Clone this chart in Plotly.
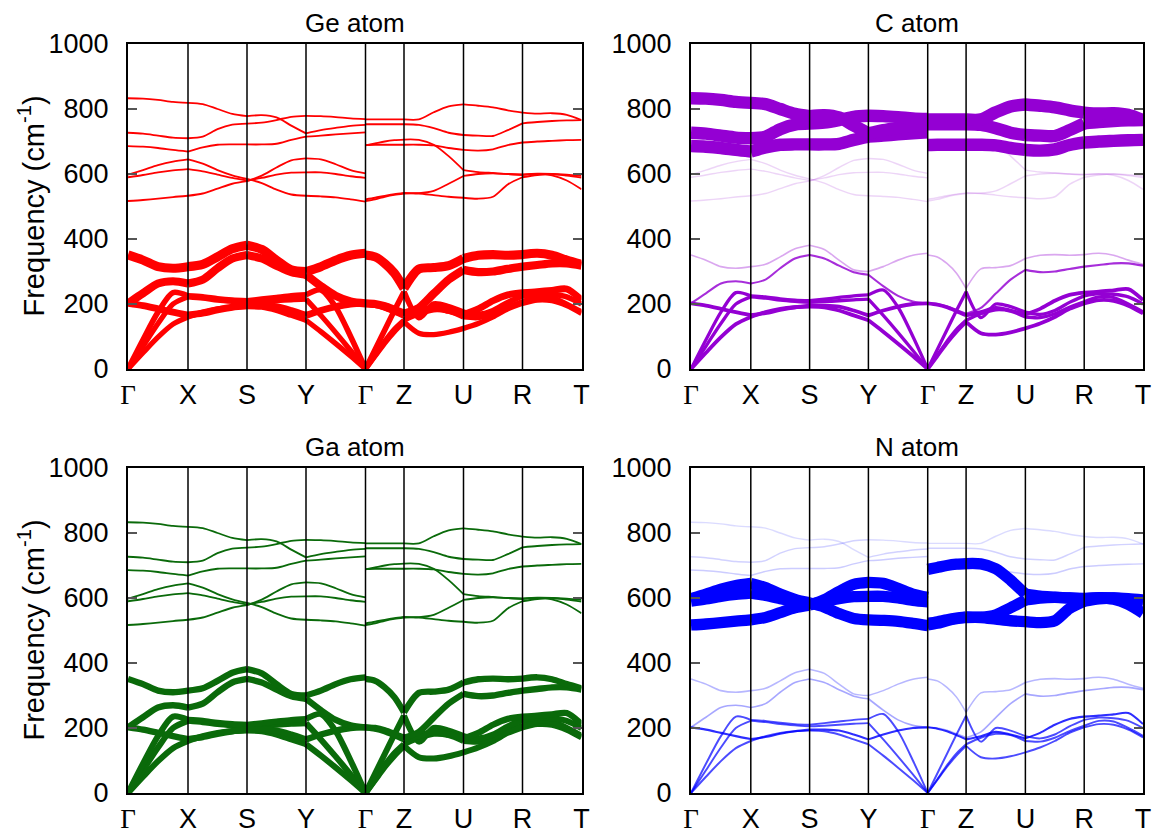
import plotly.graph_objects as go

# ---------------- data ----------------
LABELS = ["Γ", "X", "S", "Y", "Γ", "Z", "U", "R", "T"]
KPOS = [0, 60, 119, 178, 237.5, 276, 335.5, 394.5, 453.5]   # path distance of high-symmetry points
FRAC = [0, 0.25, 0.5, 0.75, 1.0]                            # sample positions inside a segment
YTICKS = [0, 200, 400, 600, 800, 1000]

# frequencies (cm^-1) of the 12 branches, sampled along each path segment
SEG_GX = [
    [0, 50, 98, 138, 160], [0, 70, 140, 200, 222], [0, 90, 175, 235, 225],
    [202, 195, 185, 175, 166], [202, 233, 263, 270, 263], [351, 335, 315, 310, 315],
    [517, 520, 524, 529, 533], [590, 597, 605, 611, 615], [598, 612, 627, 638, 645],
    [686, 684, 680, 674, 669], [727, 724, 718, 712, 710], [833, 832, 828, 822, 819]]
SEG_XS = [
    [160, 175, 185, 190, 192], [222, 218, 212, 208, 205], [225, 222, 216, 212, 210],
    [166, 172, 182, 190, 195], [263, 275, 310, 340, 351], [315, 322, 345, 370, 381],
    [533, 540, 555, 570, 578], [615, 608, 598, 588, 580], [645, 632, 612, 596, 585],
    [669, 682, 690, 691, 691], [710, 715, 738, 752, 755], [819, 815, 800, 785, 778]]
SEG_SY = [
    [192, 190, 180, 165, 150], [205, 207, 210, 213, 215], [210, 215, 220, 225, 228],
    [195, 195, 192, 180, 165], [351, 340, 318, 298, 290], [381, 368, 335, 305, 300],
    [578, 595, 620, 642, 648], [580, 588, 598, 604, 605], [585, 572, 552, 537, 533],
    [691, 691, 693, 705, 715], [755, 758, 766, 776, 779], [778, 781, 774, 749, 725]]
SEG_YG = [
    [150, 115, 78, 40, 0], [215, 165, 112, 57, 0], [228, 243, 190, 100, 0],
    [165, 180, 192, 200, 202], [290, 255, 225, 208, 202], [300, 315, 335, 350, 356],
    [648, 645, 630, 612, 602], [605, 605, 600, 593, 588], [533, 531, 528, 522, 515],
    [715, 718, 722, 725, 728], [725, 735, 742, 748, 751], [779, 778, 775, 771, 769]]
SEG_GZ = [
    [0, 40, 80, 115, 145], [0, 42, 85, 122, 150], [0, 60, 120, 180, 238],
    [202, 198, 190, 178, 165], [202, 200, 193, 182, 170], [351, 345, 325, 295, 248],
    [517, 522, 530, 536, 540], [522, 527, 533, 538, 542], [688, 694, 700, 704, 706],
    [689, 690, 690, 690, 690], [753, 753, 753, 753, 753], [768, 768, 768, 768, 768]]
SEG_ZU = [
    [145, 110, 106, 113, 125], [150, 170, 182, 178, 160], [238, 158, 200, 192, 175],
    [165, 175, 188, 180, 168], [170, 188, 232, 275, 305], [248, 308, 312, 318, 340],
    [540, 540, 535, 530, 527], [542, 541, 548, 570, 594], [706, 705, 690, 655, 612],
    [690, 690, 688, 680, 674], [753, 751, 741, 727, 720], [768, 768, 790, 808, 814]]
SEG_UR = [
    [125, 140, 160, 185, 202], [160, 158, 170, 190, 207], [175, 168, 180, 205, 225],
    [168, 185, 210, 228, 235], [305, 298, 300, 308, 315], [340, 350, 352, 350, 352],
    [527, 524, 530, 568, 590], [594, 600, 602, 600, 597], [612, 606, 603, 600, 599],
    [674, 672, 676, 689, 697], [720, 718, 717, 735, 756], [814, 810, 805, 796, 789]]
SEG_RT = [
    [202, 212, 210, 195, 171], [207, 222, 220, 200, 176], [225, 232, 230, 222, 200],
    [235, 238, 242, 246, 212], [315, 320, 325, 325, 318], [352, 356, 350, 335, 322],
    [590, 597, 600, 598, 594], [597, 600, 596, 580, 553], [599, 601, 600, 595, 589],
    [697, 700, 702, 704, 705], [756, 760, 763, 765, 766], [789, 786, 787, 782, 766]]
SEGMENTS = [SEG_GX, SEG_XS, SEG_SY, SEG_YG, SEG_GZ, SEG_ZU, SEG_UR, SEG_RT]

# projection weight of each branch on each atom (0..1)
ATOMS = ["Ge atom", "C atom", "Ga atom", "N atom"]
W_GE = [0.35, 0.35, 0.38, 0.5, 0.62, 0.7, 0.04, 0.04, 0.04, 0.04, 0.04, 0.04]
W_C = [0.22, 0.17, 0.17, 0.22, 0.06, 0.02, 0.005, 0.005, 0.005, 1.0, 1.0, 1.0]
W_GA = [0.42, 0.42, 0.42, 0.45, 0.45, 0.45, 0.04, 0.04, 0.04, 0.04, 0.04, 0.04]
W_N = [0.05, 0.05, 0.05, 0.06, 0.02, 0.015, 0.9, 0.9, 0.9, 0.008, 0.006, 0.003]
WEIGHTS = [W_GE, W_C, W_GA, W_N]

# ---------------- style ----------------
COLORS = ["#ff0000", "#9400d3", "#0a6a0a", "#0000ff"]
FADE = [0.9, 0.1, 0.85, 0.1]          # opacity floor of faint branches in each panel
XDOM = [[128 / 1154, 581.5 / 1154], [691 / 1154, 1143 / 1154],
        [128 / 1154, 581.5 / 1154], [691 / 1154, 1143 / 1154]]
YDOM = [[(834 - 369) / 834, (834 - 44) / 834], [(834 - 369) / 834, (834 - 44) / 834],
        [(834 - 793) / 834, (834 - 468) / 834], [(834 - 793) / 834, (834 - 468) / 834]]
FONT = "Liberation Sans, Arial, sans-serif"
SERIF = "Liberation Serif, Times New Roman, serif"


def tick_text(lbl):
    if lbl == "Γ":
        return f"<span style=\"font-family:{SERIF}\">Γ</span>"
    return lbl


fig = go.Figure()
for p in range(4):
    xa = "x" if p == 0 else f"x{p+1}"
    ya = "y" if p == 0 else f"y{p+1}"
    order = sorted(range(12), key=lambda b: WEIGHTS[p][b])
    for b in order:
        w = WEIGHTS[p][b]
        lw = 1.4 + 11.0 * w
        op = min(1.0, FADE[p] + 12.0 * w)
        for s, seg in enumerate(SEGMENTS):
            x0, x1 = KPOS[s], KPOS[s + 1]
            xs = [x0 + f * (x1 - x0) for f in FRAC]
            fig.add_trace(go.Scatter(
                x=xs, y=seg[b], mode="lines", xaxis=xa, yaxis=ya,
                line=dict(color=COLORS[p], width=lw, shape="spline", smoothing=0.8),
                opacity=op, showlegend=False, hoverinfo="skip"))

layout = dict(width=1154, height=834, margin=dict(l=0, r=0, t=0, b=0, autoexpand=False),
              paper_bgcolor="white", plot_bgcolor="white", showlegend=False,
              font=dict(family=FONT, color="black"))
shapes = []
annotations = []
for p in range(4):
    sx = "" if p == 0 else str(p + 1)
    layout["xaxis" + sx] = dict(
        domain=XDOM[p], anchor="y" + sx, range=[KPOS[0], KPOS[-1]],
        tickmode="array", tickvals=KPOS, ticktext=[tick_text(l) for l in LABELS], ticks="",
        showgrid=False, zeroline=False, showline=True, linecolor="black",
        linewidth=2, mirror=True, layer="above traces", automargin=False,
        tickfont=dict(size=27, family=FONT), ticklabelstandoff=1)
    layout["yaxis" + sx] = dict(
        domain=YDOM[p], anchor="x" + sx, range=[0, 1000],
        tickmode="array", tickvals=YTICKS, ticks="inside", ticklen=9,
        tickwidth=1.5, tickcolor="#555555",
        showgrid=False, zeroline=False, showline=True, linecolor="black",
        linewidth=2, mirror="ticks", layer="above traces", automargin=False,
        tickfont=dict(size=27, family=FONT), ticklabelstandoff=12)
    for k in KPOS[1:-1]:
        shapes.append(dict(type="line", xref="x" + sx, yref="y" + sx,
                           x0=k, x1=k, y0=0, y1=1000, layer="above",
                           line=dict(color="black", width=1.5)))
    annotations.append(dict(text=ATOMS[p], xref="paper", yref="paper",
                            x=(XDOM[p][0] + XDOM[p][1]) / 2, y=YDOM[p][1] + 21 / 834,
                            xanchor="center", yanchor="middle", showarrow=False,
                            font=dict(size=26, family=FONT)))
    if p in (0, 2):
        annotations.append(dict(text="Frequency (cm<sup>-1</sup>)", xref="paper", yref="paper",
                                x=31 / 1154, y=(YDOM[p][0] + YDOM[p][1]) / 2,
                                textangle=-90, xanchor="center", yanchor="middle",
                                showarrow=False, font=dict(size=29, family=FONT)))
layout["shapes"] = shapes
layout["annotations"] = annotations
fig.update_layout(**layout)
fig.write_html("out.html")
